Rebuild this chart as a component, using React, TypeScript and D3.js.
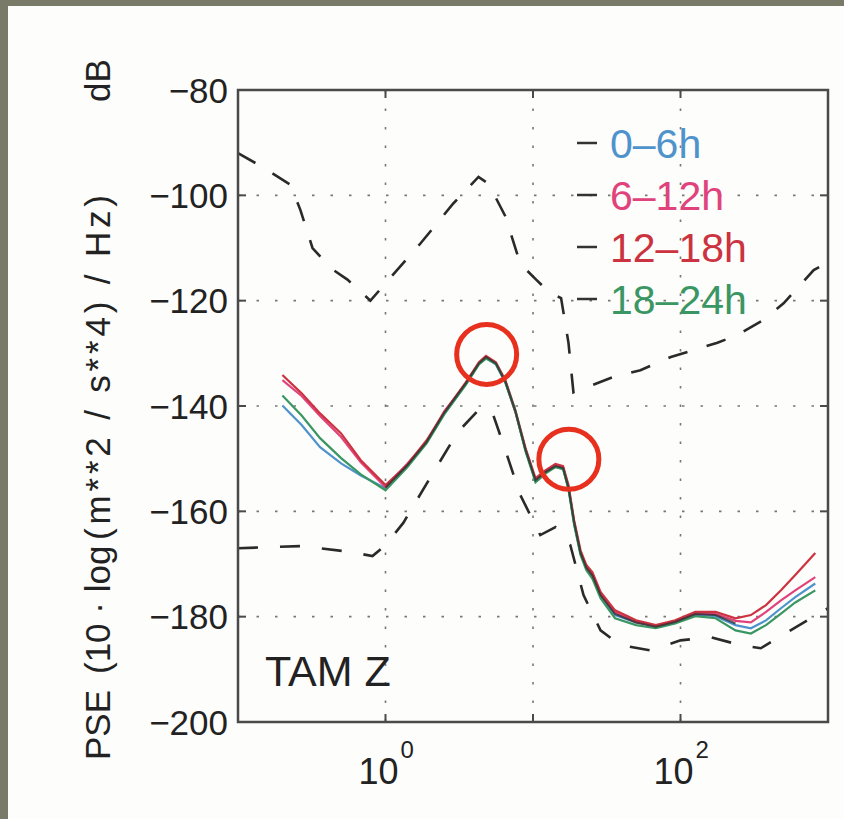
import { scaleLog, scaleLinear, line } from "d3";

// frequency (Hz) at which the four PSD curves were read
const freqs = [0.2, 0.27, 0.36, 0.5, 0.68, 1.0, 1.4, 1.9, 2.5, 3.5, 4.3, 4.8, 5.6, 6.5, 7.6, 8.9, 10.4, 12.2, 14.2, 16, 17.4, 19, 21, 23, 25.3, 28.7, 36, 50, 68, 92, 126, 173, 236, 300, 380, 480, 600, 820];

const h0to6 = [-139.9, -143.6, -147.8, -150.9, -153.2, -155.6, -151.5, -146.9, -141.5, -135.9, -132.0, -130.9, -132.1, -135.6, -141.1, -148.5, -154.2, -152.6, -151.5, -151.9, -155.6, -162.3, -168.0, -170.8, -172.3, -175.9, -179.7, -181.1, -181.8, -180.9, -179.6, -179.9, -181.6, -182.2, -180.7, -178.4, -176.3, -173.7];
const h6to12 = [-135.1, -138.1, -141.9, -145.9, -150.7, -155.4, -151.0, -146.8, -141.0, -135.8, -131.9, -130.8, -131.9, -135.4, -141.2, -148.3, -154.0, -152.4, -151.3, -151.7, -155.4, -162.0, -167.8, -170.5, -172.0, -175.8, -179.2, -181.0, -181.8, -180.9, -179.4, -179.5, -180.8, -181.1, -179.1, -176.9, -175.0, -172.5];
const h12to18 = [-134.1, -137.6, -141.4, -145.2, -150.3, -155.0, -151.2, -146.5, -141.2, -135.5, -131.7, -130.5, -131.7, -135.1, -140.8, -148.0, -153.7, -152.2, -151.0, -151.4, -155.0, -161.7, -167.4, -170.2, -171.6, -175.3, -178.8, -180.7, -181.6, -180.7, -179.1, -179.1, -180.3, -179.7, -177.8, -175.0, -172.1, -167.9];
const h18to24 = [-138.0, -141.8, -146.1, -149.9, -153.0, -156.0, -151.7, -147.1, -141.6, -136.0, -132.1, -131.0, -132.0, -135.5, -141.0, -148.6, -154.5, -152.8, -151.6, -152.0, -155.8, -162.5, -168.3, -171.2, -172.8, -176.5, -180.3, -181.6, -182.2, -181.3, -179.9, -180.3, -182.6, -183.2, -181.6, -179.4, -177.3, -175.0];
// dark overlap where the four traces coincide
const allDay = [-136.5, -139.8, -144.0, -148.0, -152.0, -155.5, -151.3, -146.8, -141.3, -135.7, -131.9, -130.7, -131.9, -135.4, -141.0, -148.3, -154.1, -152.5, -151.4, -151.8, -155.5, -162.1, -167.9, -170.7, -172.2, -175.9, -179.5, -181.1, -181.9, -181.0, -179.5, -179.7, -181.3, -181.6, -179.8, -177.4, -175.1, -172.3];

const seriesNames = ["0–6h", "6–12h", "12–18h", "18–24h"];
const seriesColors = ["#4f93cc", "#e0437c", "#cc3340", "#3a9662"];

// noise model curves (dashed)
const upperFreq = [0.1, 0.138, 0.227, 0.265, 0.32, 0.424, 0.552, 0.79, 1.0, 1.73, 2.89, 4.27, 5.0, 6.5, 8.2, 10.5, 13.1, 15.5, 17.4, 18.8, 35, 53.5, 86, 178, 244, 364, 500, 800, 1000];
const upperDb = [-92, -94.2, -98, -102.8, -110, -113.8, -116, -120, -116.7, -109.1, -101.5, -96.5, -97.8, -104, -113, -116, -118.6, -119.5, -128, -137.4, -134.5, -133.2, -130.7, -128, -126.5, -123.7, -120.5, -114.2, -112.7];
const lowerFreq = [0.1, 0.265, 0.58, 0.816, 1.0, 1.32, 2.02, 3.08, 4.4, 5.3, 6.5, 8.2, 11.2, 14.2, 17.9, 22, 28.7, 39, 62.5, 100, 160, 255, 350, 557, 1000];
const lowerDb = [-167.0, -166.6, -167.7, -168.5, -166.4, -162.2, -153.5, -145, -140.4, -141.2, -148.4, -156.9, -164.5, -163, -166.4, -175.9, -182.6, -185.4, -186.4, -184.5, -183.9, -185.4, -186, -182.6, -178.4];

const yTicks = [-80, -100, -120, -140, -160, -180, -200];
const xDecades = [0.1, 1, 10, 100, 1000];
const xLabels = [{ v: 1, exp: "0" }, { v: 100, exp: "2" }];

// y-axis title pieces: text, bottom y, stretched length (0 = natural)
const yTitle: [string, number, number][] = [
  ["PSE", 760, 0],
  ["(10 · log", 674, 0],
  ["(m**2 / s**4) / Hz)", 540, 345],
  ["dB", 102, 0],
];

// circled features: [freq, dB]
const highlights = [[4.85, -130.2], [17.5, -150.1]];

const W = 844, H = 819;
const left = 238, right = 828, top = 90, bottom = 722;

export default function App() {
  const x = scaleLog().domain([0.1, 1000]).range([left, right]);
  const y = scaleLinear().domain([-200, -80]).range([bottom, top]);
  const ln = line<number>()
    .x((_, i) => x(freqs[i]))
    .y((d) => y(d));
  const lnXY = line<[number, number]>()
    .x((d) => x(d[0]))
    .y((d) => y(d[1]));

  const series = [h0to6, h6to12, h12to18, h18to24];
  const font = "'Liberation Sans', Arial, Helvetica, sans-serif";

  return (
    <div style={{ position: "fixed", left: 0, top: 0 }}>
      <svg width={W} height={H} style={{ display: "block" }} fontFamily={font}>
        <rect x={0} y={0} width={W} height={H} fill="#7a7a68" />
        <rect x={8} y={6} width={W - 8} height={H - 6} fill="#fdfdfb" />

        {/* grid */}
        {yTicks.slice(1, -1).map((t) => (
          <line key={"gy" + t} x1={left} x2={right} y1={y(t)} y2={y(t)}
            stroke="#777" strokeWidth={1.6} strokeDasharray="2.5,16" />
        ))}
        {xDecades.slice(1, -1).map((t) => (
          <line key={"gx" + t} x1={x(t)} x2={x(t)} y1={top} y2={bottom}
            stroke="#777" strokeWidth={1.6} strokeDasharray="2.5,16" />
        ))}

        {/* noise models */}
        <path d={lnXY(upperFreq.map((f, i) => [f, upperDb[i]]))!} fill="none"
          stroke="#2a2a2a" strokeWidth={2.6} strokeDasharray="20,20" />
        <path d={lnXY(lowerFreq.map((f, i) => [f, lowerDb[i]]))!} fill="none"
          stroke="#2a2a2a" strokeWidth={2.6} strokeDasharray="20,22" />

        {/* PSD traces */}
        {series.map((s, k) => (
          <path key={k} d={ln(s)!} fill="none" stroke={seriesColors[k]} strokeWidth={2.2} />
        ))}
        <path
          d={line<number>().x((_, i) => x(freqs[i + 5])).y((d) => y(d))(allDay.slice(5, 33))!}
          fill="none" stroke="#2b2b2b" strokeWidth={2} strokeOpacity={0.75} />

        {/* frame */}
        <rect x={left} y={top} width={right - left} height={bottom - top} fill="none" stroke="#4a4a4a" strokeWidth={2.5} />
        {yTicks.map((t) => (
          <g key={"ty" + t}>
            <line x1={left} x2={left + 8} y1={y(t)} y2={y(t)} stroke="#4a4a4a" strokeWidth={2} />
            <line x1={right - 8} x2={right} y1={y(t)} y2={y(t)} stroke="#4a4a4a" strokeWidth={2} />
            <text x={228} y={y(t)} dy="0.36em" textAnchor="end" fontSize={35} fill="#222">
              {"−" + Math.abs(t)}
            </text>
          </g>
        ))}
        {xDecades.map((t) => (
          <g key={"tx" + t}>
            <line x1={x(t)} x2={x(t)} y1={bottom} y2={bottom - 8} stroke="#4a4a4a" strokeWidth={2} />
            <line x1={x(t)} x2={x(t)} y1={top} y2={top + 8} stroke="#4a4a4a" strokeWidth={2} />
          </g>
        ))}
        {xLabels.map((l) => (
          <text key={"xl" + l.v} x={x(l.v) - 27} y={784} fontSize={36} fill="#222">
            10
            <tspan dx={2} dy={-26} fontSize={24}>{l.exp}</tspan>
          </text>
        ))}

        {/* axis title */}
        {yTitle.map(([s, yb, len]) => (
          <text key={s} transform={`translate(110,${yb}) rotate(-90)`} fontSize={35} fill="#222"
            {...(len ? { textLength: len, lengthAdjust: "spacing" } : {})}>
            {s}
          </text>
        ))}

        <text x={265} y={686} fontSize={43} fill="#222">TAM Z</text>

        {/* legend */}
        {seriesNames.map((n, k) => (
          <g key={n}>
            <line x1={577} x2={597} y1={143 + k * 52} y2={143 + k * 52} stroke="#333" strokeWidth={2.5} />
            <text x={610} y={143 + k * 52} dy="0.36em" fontSize={41} fill={seriesColors[k]}>{n}</text>
          </g>
        ))}

        {/* annotation circles */}
        {highlights.map((h, i) => (
          <circle key={i} cx={x(h[0])} cy={y(h[1])} r={30} fill="none" stroke="#e8301e" strokeWidth={5} />
        ))}
      </svg>
    </div>
  );
}
